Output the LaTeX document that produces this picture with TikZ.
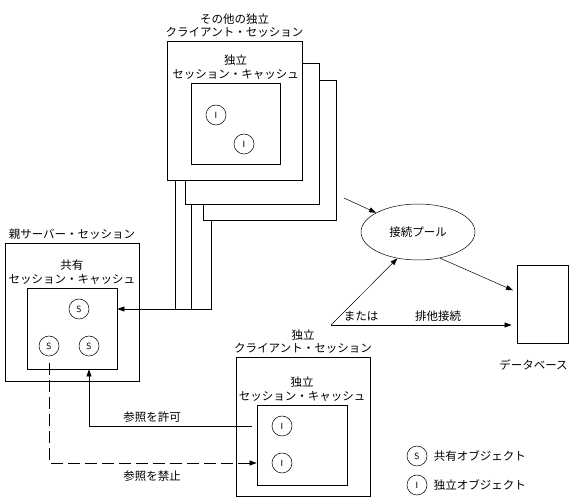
\documentclass[tikz,border=0pt]{standalone}
\usepackage{fontspec}
\setmainfont{Noto Sans CJK JP}
\usetikzlibrary{arrows.meta,positioning,shapes.geometric}

\tikzset{
 sessbox/.style={draw, line width=0.8pt, fill=white, rectangle, minimum width=134pt, minimum height=139pt, inner sep=0pt},
 cachebox/.style={draw, line width=0.8pt, fill=white, rectangle, minimum width=90pt, minimum height=81pt, inner sep=0pt},
 boxlabel/.style={align=center, inner sep=1pt},
 obj/.style={draw, circle, line width=0.5pt, minimum size=20pt, inner sep=0pt, font=\sffamily\small},
 arr/.style={-{Triangle[length=7pt,width=5pt]}, line width=0.7pt},
}

\begin{document}
\begin{tikzpicture}[x=1pt, y=-1pt, node distance=2pt, font=\fontsize{11.5}{13.5}\selectfont]
 \useasboundingbox (0,0) rectangle (571,502);

 % other client sessions
 \node[sessbox, minimum width=133pt, minimum height=140pt] (osess3) at (269.5,150) {};
 \node[sessbox, minimum height=141pt] (osess2) at (252,133.5) {};
 \node[sessbox, minimum width=135pt] (osess1) at (234.5,110.5) {};
 \node[boxlabel, above=of osess1] (osesslbl) {その他の独立\\クライアント・セッション};
 \node[cachebox, minimum width=89pt] (ocache) at (235.5,123.5) {};
 \node[boxlabel, above=of ocache] (ocachelbl) {独立\\セッション・キャッシュ};
 \node[obj] (oi1) at (216,115) {I};
 \node[obj] (oi2) at (244,144) {I};

 % parent server session
 \node[sessbox, minimum height=138pt] (psess) at (72,312) {};
 \node[boxlabel, above=of psess] (psesslbl) {親サーバー・セッション};
 \node[cachebox] (scache) at (72,328.5) {};
 \node[boxlabel, above=of scache] (scachelbl) {共有\\セッション・キャッシュ};
 \node[obj] (s1) at (79,309) {S};
 \node[obj] (s2) at (49,346) {S};
 \node[obj] (s3) at (89,346) {S};

 % pool and database
 \node[draw, ellipse, line width=0.5pt, minimum width=114pt, minimum height=56pt, inner sep=0pt] (pool) at (418,232) {接続プール};
 \node[draw, line width=0.8pt, minimum width=51pt, minimum height=78pt, inner sep=0pt] (db) at (542.5,304) {};
 \node[below=13pt of db, xshift=-9pt] (dblbl) {データベース};

 % independent client session
 \node[sessbox] (isess) at (303,426.5) {};
 \node[boxlabel, above=of isess] (isesslbl) {独立\\クライアント・セッション};
 \node[cachebox, minimum height=80pt] (icache) at (302,445) {};
 \node[boxlabel, above=of icache] (icachelbl) {独立\\セッション・キャッシュ};
 \node[obj] (i1) at (282,426) {I};
 \node[obj] (i2) at (282,463) {I};

 % connectors
 \coordinate (link) at (212,309);
 \draw[line width=0.7pt] ([xshift=9pt]osess1.south west) -- ++(0,129);
 \draw[line width=0.7pt] ([xshift=7pt]osess2.south west) -- ++(0,105);
 \draw[arr] ([xshift=9pt]osess3.south west) |- (link -| scache.east);

 \coordinate (fromstack) at (344,198);
 \coordinate (orig) at (331,325);
 \draw[arr, line width=0.5pt] (fromstack) -- (pool);
 \draw[arr, line width=0.5pt] (orig) -- (pool.232);
 \draw[arr, shorten >=5pt] (orig) -- (orig -| db.west);
 \draw[arr, line width=0.5pt, shorten >=4pt] (pool.-50) -- (db.155);
 \node (orlbl) at (361,316) {または};
 \node (exlbl) at (438,316) {排他接続};

 \coordinate (permit) at (252,426);
 \draw[arr] (permit) -| (s3 |- scache.south);
 \node (permitlbl) at (152,417) {参照を許可};
 \coordinate (deny) at (49,363);
 \draw[arr, dash pattern=on 12pt off 5pt] (deny) |- (icache.west |- i2);
 \node (denylbl) at (152,476) {参照を禁止};

 % legend
 \node[obj] (legs) at (417,456) {S};
 \node[right=3pt of legs] (legslbl) {共有オブジェクト};
 \node[obj] (legi) at (417,485) {I};
 \node[right=3pt of legi] (legilbl) {独立オブジェクト};
\end{tikzpicture}
\end{document}
